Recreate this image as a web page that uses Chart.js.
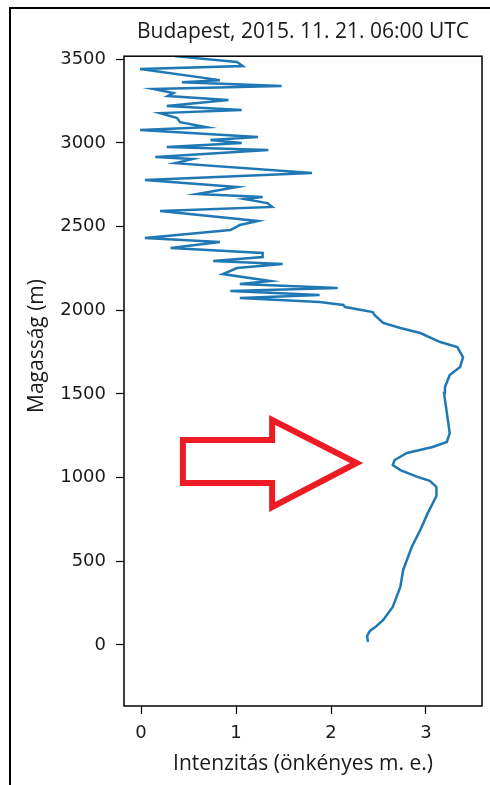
<!DOCTYPE html>
<html>
<head>
<meta charset="utf-8">
<script src="https://cdn.jsdelivr.net/npm/chart.js@4.4.0/dist/chart.umd.min.js"></script>
<style>
  html, body { margin: 0; padding: 0; background: #fff; }
  #frame { position: absolute; left: 9px; top: 7px; width: 490px; height: 790px; border-left: 2px solid #000; border-top: 2px solid #000; }
  canvas { position: absolute; left: 0; top: 0; }
</style>
</head>
<body>
<div id="frame"></div>
<canvas id="profile" width="490" height="785"></canvas>
<script>
// altitude (m) and backscatter intensity from bottom to top
const heights = [
  18, 54, 84, 108, 149, 227, 346, 448, 585, 687,
  789, 890, 944, 980, 1004, 1045, 1075, 1105, 1147, 1183,
  1213, 1266, 1386, 1505, 1541, 1613, 1661, 1720, 1780, 1810,
  1864, 1894, 1924, 1971, 1989, 2019, 2031, 2049, 2073, 2091,
  2115, 2133, 2157, 2175, 2216, 2252, 2276, 2294, 2318, 2342,
  2372, 2408, 2431, 2479, 2509, 2533, 2593, 2617, 2640, 2664,
  2676, 2694, 2736, 2778, 2820, 2879, 2903, 2915, 2957, 2975,
  2999, 3017, 3035, 3077, 3094, 3124, 3148, 3178, 3196, 3220,
  3256, 3280, 3298, 3322, 3340, 3363, 3375, 3441, 3459, 3483,
  3513, 3540
];
const intensity = [
  2.39, 2.38, 2.41, 2.47, 2.55, 2.65, 2.73, 2.76, 2.85, 2.94,
  3.02, 3.11, 3.11, 3.04, 2.91, 2.73, 2.65, 2.67, 2.80, 3.07,
  3.22, 3.25, 3.22, 3.19, 3.20, 3.25, 3.36, 3.39, 3.33, 3.15,
  2.94, 2.73, 2.55, 2.46, 2.44, 2.15, 2.13, 1.88, 1.04, 1.88,
  0.94, 2.07, 1.04, 1.36, 0.86, 1.01, 1.49, 0.76, 1.28, 1.28,
  0.31, 0.83, 0.04, 0.94, 1.04, 1.23, 0.20, 1.38, 1.33, 1.09,
  1.28, 0.59, 1.01, 0.04, 1.80, 0.36, 0.54, 0.15, 1.34, 0.27,
  1.06, 0.73, 1.23, -0.01, 0.69, 0.41, 0.38, 0.20, 1.06, 0.27,
  0.92, 0.28, 0.34, 0.13, 1.48, 0.43, 0.83, -0.01, 1.07, 1.01,
  0.45, 0.75
];
const xTicks = [0, 1, 2, 3];
const yTicks = [0, 500, 1000, 1500, 2000, 2500, 3000, 3500];

// red outline arrow pointing at the dip, in data units
const arrowShape = [[0.44, 1225], [1.38, 1225], [1.38, 1344], [2.27, 1087], [1.38, 824], [1.38, 968], [0.44, 968]];

const textFont = '"Open Sans", "Noto Sans", sans-serif';
const tickFont = { family: 'DejaVu Sans', size: 18 };

const extras = {
  id: 'extras',
  afterDatasetsDraw(chart) {
    const { ctx, chartArea: a, scales: { x, y } } = chart;
    ctx.save();
    ctx.strokeStyle = '#000';
    ctx.lineWidth = 1.5;
    ctx.strokeRect(a.left, a.top, a.right - a.left, a.bottom - a.top);

    ctx.beginPath();
    arrowShape.forEach(([vx, vy], i) => {
      const px = x.getPixelForValue(vx), py = y.getPixelForValue(vy);
      if (i) ctx.lineTo(px, py); else ctx.moveTo(px, py);
    });
    ctx.closePath();
    ctx.strokeStyle = '#ed1c24';
    ctx.lineWidth = 6;
    ctx.lineJoin = 'miter';
    ctx.stroke();

    ctx.translate(37, 346);
    ctx.rotate(-Math.PI / 2);
    ctx.font = '21px ' + textFont;
    ctx.fillStyle = '#1a1a1a';
    ctx.textAlign = 'center';
    ctx.textBaseline = 'middle';
    ctx.fillText('Magasság (m)', 0, 0);
    ctx.restore();
  }
};

new Chart(document.getElementById('profile'), {
  type: 'scatter',
  data: {
    datasets: [{
      data: heights.map((h, i) => ({ x: intensity[i], y: h })),
      showLine: true,
      borderColor: '#1f77b4',
      borderWidth: 2.5,
      pointRadius: 0,
      tension: 0
    }]
  },
  options: {
    responsive: false,
    animation: false,
    layout: { padding: { left: 0, right: 8, top: 0, bottom: 0 } },
    plugins: {
      legend: { display: false },
      tooltip: { enabled: false },
      title: {
        display: true,
        fullSize: false,
        text: 'Budapest, 2015. 11. 21. 06:00 UTC',
        color: '#1a1a1a',
        font: { family: textFont, size: 21, weight: 'normal' },
        padding: { top: 19, bottom: 12 }
      }
    },
    scales: {
      x: {
        type: 'linear',
        min: -0.18,
        max: 3.59,
        afterBuildTicks: s => { s.ticks = xTicks.map(v => ({ value: v })); },
        afterFit: s => { s.height = 79; },
        border: { display: false },
        grid: { drawOnChartArea: false, tickLength: 8, tickColor: '#000', tickWidth: 1.2 },
        ticks: { color: '#1a1a1a', font: tickFont, padding: 9, maxRotation: 0, callback: v => String(v) },
        title: {
          display: true,
          text: 'Intenzitás (önkényes m. e.)',
          color: '#1a1a1a',
          font: { family: textFont, size: 21 },
          padding: { top: 0, bottom: 8 }
        }
      },
      y: {
        type: 'linear',
        min: -365,
        max: 3518,
        afterBuildTicks: s => { s.ticks = yTicks.map(v => ({ value: v })); },
        afterFit: s => { s.width = 124; },
        border: { display: false },
        grid: { drawOnChartArea: false, tickLength: 8, tickColor: '#000', tickWidth: 1.2 },
        ticks: { color: '#1a1a1a', font: tickFont, padding: 10, callback: v => String(v) }
      }
    }
  },
  plugins: [extras]
});
</script>
</body>
</html>
